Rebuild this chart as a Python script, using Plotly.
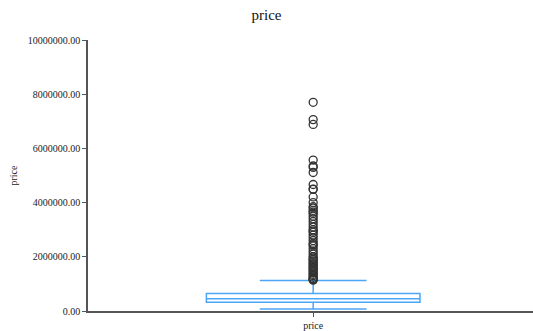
import plotly.graph_objects as go

category = ["price"]
q1 = [321950]
median = [450000]
q3 = [645000]
lower_fence = [78000]
upper_fence = [1129575]
outliers = [7700000, 7062500, 6885000, 5570000, 5350000, 5300000, 5110800,
            4668000, 4500000, 4489000, 4208000, 4000000, 3850000, 3800000,
            3710000, 3650000, 3600000, 3500000, 3400000, 3300000, 3200000,
            3100000, 3000000, 2950000, 2900000, 2800000, 2700000, 2600000,
            2500000, 2450000, 2400000, 2300000, 2200000, 2100000, 2000000,
            1950000, 1900000, 1850000, 1800000, 1750000, 1700000, 1650000,
            1600000, 1550000, 1500000, 1450000, 1400000, 1350000, 1300000,
            1250000, 1200000, 1180000, 1160000, 1140000]
y_ticks = [0, 2000000, 4000000, 6000000, 8000000, 10000000]

font = "Liberation Serif, Times New Roman, serif"
blue = "#4da6f5"
txt = "#222222"

fig = go.Figure()
fig.add_trace(go.Box(
    x=category, q1=q1, median=median, q3=q3,
    lowerfence=lower_fence, upperfence=upper_fence,
    width=0.48, whiskerwidth=0.5,
    line=dict(color=blue, width=1.5),
    fillcolor="rgba(255,255,255,0)",
    boxpoints=False, showlegend=False, hoverinfo="skip",
))
fig.add_trace(go.Scatter(
    x=category * len(outliers), y=outliers, mode="markers",
    marker=dict(symbol="circle-open", size=8, color="#333333",
                line=dict(width=1.3, color="#333333")),
    showlegend=False,
))

fig.update_layout(
    width=533, height=331,
    margin=dict(l=88, r=0, t=40, b=20),
    paper_bgcolor="white", plot_bgcolor="white",
    font=dict(family=font, size=10, color=txt),
    title=dict(text="price", x=0.5, xanchor="center", y=0.955, yanchor="middle",
               font=dict(family=font, size=15, color="#111111")),
    xaxis=dict(type="category", range=[-0.506, 0.494], showline=True,
               linecolor="#555555", linewidth=1.5, ticks="outside", ticklen=4,
               tickcolor="#555555", showgrid=False, zeroline=False,
               automargin=False,
               tickfont=dict(family=font, size=10, color=txt)),
    yaxis=dict(range=[0, 10000000], tickvals=y_ticks, tickformat=".2f",
               showline=True, linecolor="#555555", linewidth=1.5,
               ticks="outside", ticklen=4, tickcolor="#555555",
               showgrid=False, zeroline=False, automargin=False,
               title=dict(text="price", font=dict(family=font, size=10, color=txt),
                          standoff=8),
               tickfont=dict(family=font, size=10, color=txt)),
)

fig.write_html("out.html",
               config={"displayModeBar": False},
               post_script="document.body.style.margin='0';document.body.style.overflow='hidden';")
